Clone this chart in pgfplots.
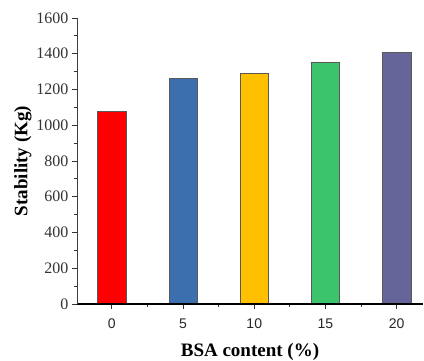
\documentclass[border=0pt]{standalone}
\usepackage{pgfplots}
\pgfplotsset{compat=1.18}
\usepackage{fontspec}
\setmainfont{Liberation Serif}
\newfontfamily\arialfont{Liberation Sans}
\definecolor{cRed}{HTML}{FF0000}
\definecolor{cBlue}{HTML}{3B6FAE}
\definecolor{cYel}{HTML}{FFC000}
\definecolor{cGrn}{HTML}{3CC46C}
\definecolor{cPur}{HTML}{65659A}
\begin{document}
\begin{tikzpicture}
\useasboundingbox (-77pt,-56pt) rectangle (347pt,304pt);
\begin{axis}[
  at={(0pt,0pt)}, anchor=south west,
  scale only axis,
  width=346pt, height=286pt,
  xmin=-0.49, xmax=4.37,
  ymin=0, ymax=1600,
  axis on top,
  axis x line*=bottom, axis y line*=left,
  x axis line style={line width=1.4pt, black, -},
  y axis line style={line width=0.8pt, black!75, -},
  xtick={0,1,2,3,4},
  xticklabels={0,5,10,15,20},
  minor xtick={0.5,1.5,2.5,3.5},
  ytick={0,200,...,1600},
  minor ytick={100,300,...,1500},
  tick align=outside,
  major tick length=5pt, minor tick length=3pt,
  every tick/.style={black!80, line width=0.8pt},
  xticklabel style={font=\arialfont\fontsize{14}{16}\selectfont, text=black!85, yshift=-6pt},
  yticklabel style={font=\fontsize{16}{18}\selectfont, text=black!80},
  /pgf/number format/assume math mode=true,
  /pgf/number format/1000 sep={},
  xlabel={\textbf{BSA content (\%)}},
  ylabel={\textbf{Stability (Kg)}},
  label style={font=\fontsize{19}{22}\selectfont},
  xlabel style={yshift=-8pt},
  ylabel style={yshift=-2pt},
  ybar, bar width=28.5pt, bar shift=0pt,
  every axis plot/.append style={draw=black!65, line width=0.6pt},
]
\addplot[fill=cRed] coordinates {(0,1078)};
\addplot[fill=cBlue] coordinates {(1,1263)};
\addplot[fill=cYel] coordinates {(2,1289)};
\addplot[fill=cGrn] coordinates {(3,1352)};
\addplot[fill=cPur] coordinates {(4,1407)};
\end{axis}
\end{tikzpicture}
\end{document}
